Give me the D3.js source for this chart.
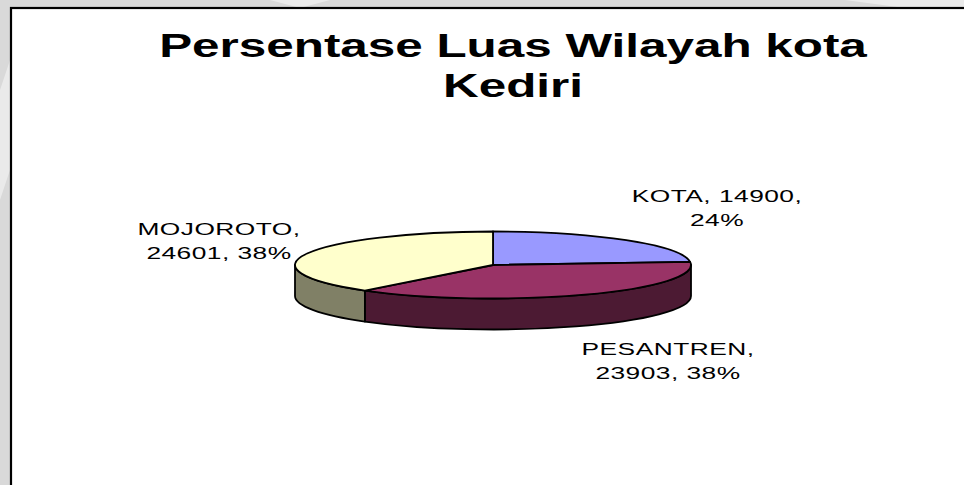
<!DOCTYPE html>
<html lang="en">
<head>
  <meta charset="UTF-8">
  <title>Persentase Luas Wilayah kota Kediri</title>
  <script src="https://d3js.org/d3.v7.min.js"></script>
  <style>
    body {
      margin: 0;
      background: #d9d9d9;
      overflow: hidden;
    }

    svg {
      display: block;
      font-family: "Liberation Sans", Arial, sans-serif;
    }
  </style>
</head>
<body>
  <div id="chart"></div>

  <script>
    // Luas wilayah per kecamatan (Kota Kediri)
    const categories = ["KOTA", "PESANTREN", "MOJOROTO"];
    const values = [14900, 23903, 24601];
    const percentLabels = ["24%", "38%", "38%"];
    const topColors = ["#9999ff", "#993366", "#ffffcc"];
    const sideColors = ["#4c4c80", "#4c1a33", "#808066"];
    const titleLines = ["Persentase Luas Wilayah kota", "Kediri"];

    const width = 964;
    const height = 485;
    const stretch = 1.55; // text in the original is stretched horizontally

    const cx = 493, cy = 265, rx = 198, ry = 33.5, depth = 31;

    const svg = d3.select("#chart")
      .append("svg")
      .attr("width", width)
      .attr("height", height);

    // faint watermark strips behind the chart area
    const wm = svg.append("g").attr("fill", "#ffffff").attr("opacity", 0.45);
    wm.append("path").attr("d", "M270,0 L330,0 L300,8 Z");
    wm.append("path").attr("d", "M845,0 L964,0 L964,8 L905,8 Z");
    wm.append("path").attr("d", "M0,90 L10,60 L10,170 L0,200 Z");

    // chart area
    svg.append("rect")
      .attr("x", 11)
      .attr("y", 8)
      .attr("width", width + 20)
      .attr("height", height + 20)
      .attr("fill", "#ffffff")
      .attr("stroke", "#000")
      .attr("stroke-width", 2.2);

    // title
    svg.append("g")
      .attr("transform", `translate(513,0) scale(1.52,1)`)
      .selectAll("text")
      .data(titleLines)
      .join("text")
        .attr("x", 0)
        .attr("y", (d, i) => 57 + i * 40)
        .attr("text-anchor", "middle")
        .attr("font-size", 32.5)
        .attr("font-weight", "bold")
        .attr("fill", "#000")
        .text(d => d);

    const data = categories.map((c, i) => ({
      name: c, value: values[i], pct: percentLabels[i],
      top: topColors[i], side: sideColors[i]
    }));

    const pie = d3.pie().sort(null).value(d => d.value);
    const arcs = pie(data);

    const px = a => cx + rx * Math.sin(a);
    const py = a => cy - ry * Math.cos(a);

    function topPath(d) {
      const a0 = d.startAngle, a1 = d.endAngle;
      const large = a1 - a0 > Math.PI ? 1 : 0;
      return `M${cx},${cy} L${px(a0)},${py(a0)} ` +
        `A${rx},${ry} 0 ${large} 1 ${px(a1)},${py(a1)} Z`;
    }

    function sidePath(d) {
      const a0 = Math.max(d.startAngle, Math.PI / 2);
      const a1 = Math.min(d.endAngle, Math.PI * 1.5);
      if (a1 <= a0) return null;
      return `M${px(a0)},${py(a0)} A${rx},${ry} 0 0 1 ${px(a1)},${py(a1)} ` +
        `L${px(a1)},${py(a1) + depth} A${rx},${ry} 0 0 0 ${px(a0)},${py(a0) + depth} Z`;
    }

    const pieG = svg.append("g")
      .attr("stroke", "#000")
      .attr("stroke-width", 1.8)
      .attr("stroke-linejoin", "round");

    pieG.selectAll("path.side")
      .data(arcs.filter(d => sidePath(d)))
      .join("path")
        .attr("class", "side")
        .attr("fill", d => d.data.side)
        .attr("d", sidePath);

    pieG.selectAll("path.top")
      .data(arcs)
      .join("path")
        .attr("class", "top")
        .attr("fill", d => d.data.top)
        .attr("d", topPath);

    // data labels (category, value, percentage), placed like the original
    const labelPos = {
      KOTA: { x: 717, y: 202, lines: d => [`${d.name}, ${d.value},`, d.pct] },
      PESANTREN: { x: 668, y: 355, lines: d => [`${d.name},`, `${d.value}, ${d.pct}`] },
      MOJOROTO: { x: 219, y: 235, lines: d => [`${d.name},`, `${d.value}, ${d.pct}`] }
    };

    const labels = svg.append("g")
      .selectAll("g")
      .data(arcs)
      .join("g")
        .attr("transform", d => {
          const p = labelPos[d.data.name];
          return `translate(${p.x},${p.y}) scale(${stretch},1)`;
        });

    labels.selectAll("text")
      .data(d => labelPos[d.data.name].lines(d.data))
      .join("text")
        .attr("x", 0)
        .attr("y", (d, i) => i * 24.5)
        .attr("text-anchor", "middle")
        .attr("font-size", 17)
        .attr("letter-spacing", 0.3)
        .attr("fill", "#000")
        .text(d => d);
  </script>
</body>
</html>
